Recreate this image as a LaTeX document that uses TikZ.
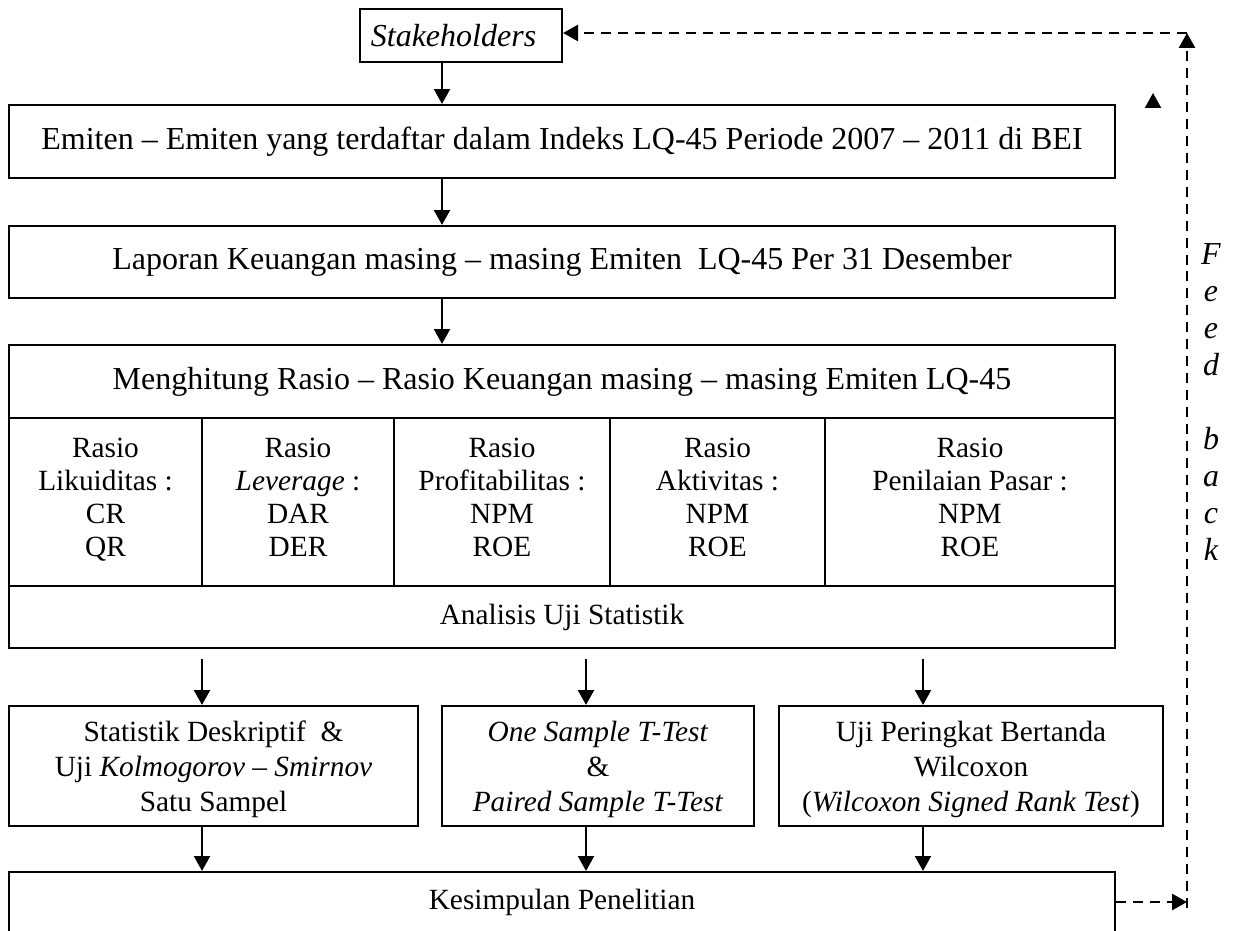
\documentclass[tikz,border=0pt]{standalone}
\usepackage{fontspec}
\setmainfont{Liberation Serif}
\usetikzlibrary{arrows.meta}

\tikzset{
  box/.style={draw, line width=0.8pt, inner sep=0pt, align=center, font=\fontsize{12}{14}\selectfont},
  cell/.style={box, font=\fontsize{11}{12.4}\selectfont, minimum height=63pt},
  smallbox/.style={box, font=\fontsize{11}{13.1}\selectfont, minimum height=45pt},
  arr/.style={line width=0.8pt, -{Triangle[width=6pt,length=5.6pt]}},
  fb/.style={arr, line width=1pt, dash pattern=on 3.75pt off 2.6pt}
}

\begin{document}
\begin{tikzpicture}[x=0.375pt, y=-0.375pt]
    \useasboundingbox (0,0) rectangle (1239,930);

    % Stakeholders and the two upper boxes
    \node[box, font=\fontsize{12}{14}\selectfont\itshape, minimum width=75.75pt, minimum height=19.875pt] (stake) at (461,35.5) {Stakeholders\hspace*{5.6pt}};
    \node[box, minimum width=414.75pt, minimum height=27.375pt] (emiten) at (562,141.5) {Emiten – Emiten yang terdaftar dalam Indeks LQ-45 Periode 2007 – 2011 di BEI};
    \node[box, minimum width=414.75pt, minimum height=27pt] (laporan) at (562,262) {Laporan Keuangan masing – masing Emiten~ LQ-45 Per 31 Desember};

    % Ratio table
    \node[box, minimum width=414.75pt, minimum height=27.375pt] (judul) at (562,381.5) {Menghitung Rasio – Rasio Keuangan masing – masing Emiten LQ-45};
    \node[cell, minimum width=72.375pt] (likuid) at (105.5,502) {Rasio\\Likuiditas :\\CR\\QR\strut};
    \node[cell, minimum width=72pt] (lever) at (298,502) {Rasio\\\textit{Leverage} :\\DAR\\DER\strut};
    \node[cell, minimum width=81pt] (profit) at (502,502) {Rasio\\Profitabilitas :\\NPM\\ROE\strut};
    \node[cell, minimum width=80.625pt] (aktiv) at (717.5,502) {Rasio\\Aktivitas :\\NPM\\ROE\strut};
    \node[cell, minimum width=108.75pt] (pasar) at (970,502) {Rasio\\Penilaian Pasar :\\NPM\\ROE\strut};
    \node[box, font=\fontsize{11}{13}\selectfont, minimum width=414.75pt, minimum height=23.25pt] (analisis) at (562,617) {Analisis Uji Statistik};

    % Test boxes
    \node[smallbox, minimum width=153.375pt] (deskr) at (213.5,766) {\rule{0pt}{12pt}Statistik Deskriptif~ \&\\Uji \textit{Kolmogorov – Smirnov}\\Satu Sampel\strut};
    \node[smallbox, minimum width=117pt] (ttest) at (598,766) {\rule{0pt}{12pt}\textit{One Sample T-Test}\\\&\\\textit{Paired Sample T-Test}\strut};
    \node[smallbox, minimum width=144pt] (wilc) at (971,766) {\rule{0pt}{12pt}Uji Peringkat Bertanda\\Wilcoxon\\(\textit{Wilcoxon Signed Rank Test})\strut};

    % Conclusion
    \node[box, font=\fontsize{11}{13}\selectfont, minimum width=414.75pt, minimum height=22.5pt] (kesim) at (562,902) {Kesimpulan Penelitian};

    % Columns of the arrows
    \coordinate (ax) at (442,0);
    \coordinate (c1) at (202,0);
    \coordinate (c2) at (586,0);
    \coordinate (c3) at (923,0);

    % Main arrows
    \draw[arr] (stake.south -| ax) -- (emiten.north -| ax);
    \draw[arr] (emiten.south -| ax) -- (laporan.north -| ax);
    \draw[arr] (laporan.south -| ax) -- (judul.north -| ax);
    \draw[arr] ([yshift=-3.75pt]analisis.south -| c1) -- (deskr.north -| c1);
    \draw[arr] ([yshift=-3.75pt]analisis.south -| c2) -- (ttest.north -| c2);
    \draw[arr] ([yshift=-3.75pt]analisis.south -| c3) -- (wilc.north -| c3);
    \draw[arr] (deskr.south -| c1) -- (kesim.north -| c1);
    \draw[arr] (ttest.south -| c2) -- (kesim.north -| c2);
    \draw[arr] (wilc.south -| c3) -- (kesim.north -| c3);

    % Feedback loop
    \coordinate (fbbot) at (1187,908);
    \coordinate (fbtop) at (1187,33);
    \coordinate (stray) at (1153,108);
    \draw[fb] (kesim.east) -- (kesim.east -| fbbot);
    \draw[fb] (fbbot) -- (fbtop);
    \draw[fb] (fbtop) -- (fbtop -| stake.east);
    \draw[arr] (stray) -- ++(0,-15);

    % Feedback label
    \foreach \ch/\yy in {F/264, e/301, e/338, d/375, b/449, a/486, c/523, k/560}
        \node[anchor=base, inner sep=0pt, font=\fontsize{12}{14}\selectfont\itshape] (fb-\yy) at (1211,\yy) {\ch};

\end{tikzpicture}
\end{document}
